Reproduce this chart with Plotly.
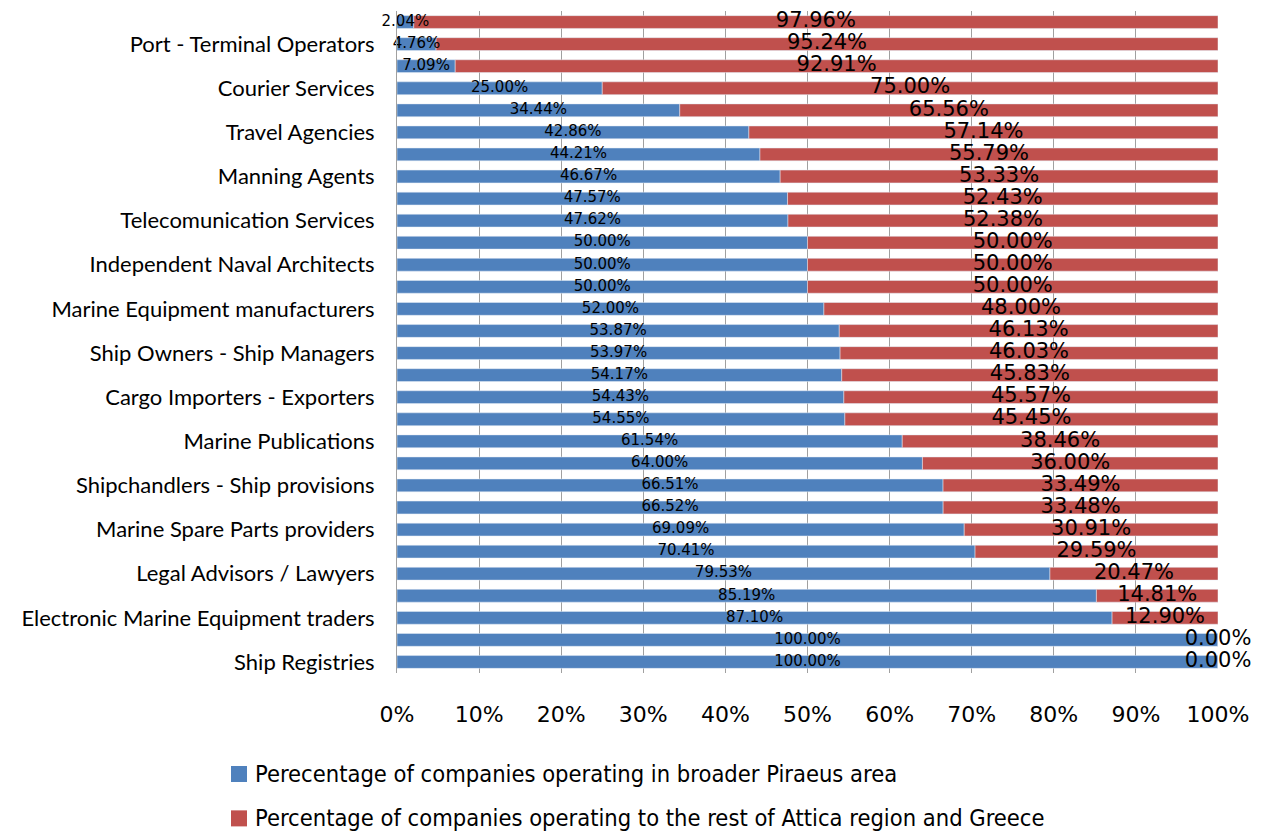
import plotly.graph_objects as go

labels = ["", "Port - Terminal Operators", "", "Courier Services", "", "Travel Agencies", "",
          "Manning Agents", "", "Telecomunication Services", "", "Independent Naval Architects", "",
          "Marine Equipment manufacturers", "", "Ship Owners - Ship Managers", "",
          "Cargo Importers - Exporters", "", "Marine Publications", "", "Shipchandlers - Ship provisions", "",
          "Marine Spare Parts providers", "", "Legal Advisors / Lawyers", "",
          "Electronic Marine Equipment traders", "", "Ship Registries"]
piraeus = [2.04, 4.76, 7.09, 25.00, 34.44, 42.86, 44.21, 46.67, 47.57, 47.62, 50.00, 50.00, 50.00,
           52.00, 53.87, 53.97, 54.17, 54.43, 54.55, 61.54, 64.00, 66.51, 66.52, 69.09, 70.41,
           79.53, 85.19, 87.10, 100.00, 100.00]
rest = [97.96, 95.24, 92.91, 75.00, 65.56, 57.14, 55.79, 53.33, 52.43, 52.38, 50.00, 50.00, 50.00,
        48.00, 46.13, 46.03, 45.83, 45.57, 45.45, 38.46, 36.00, 33.49, 33.48, 30.91, 29.59,
        20.47, 14.81, 12.90, 0.00, 0.00]
x_ticks = [0, 10, 20, 30, 40, 50, 60, 70, 80, 90, 100]
name_blue = "Perecentage of companies operating in broader Piraeus area"
name_red = "Percentage of companies operating to the rest of Attica region and Greece"

BLUE = "#4F81BD"
RED = "#C0504D"
NARROW = "Liberation Sans Narrow, DejaVu Sans Condensed, sans-serif"
WIDE = "DejaVu Sans, sans-serif"

ypos = list(range(len(labels)))

fig = go.Figure()
fig.add_trace(go.Bar(y=ypos, x=piraeus, orientation="h", marker_color=BLUE, name=name_blue,
                     width=0.58))
fig.add_trace(go.Bar(y=ypos, x=rest, orientation="h", marker_color=RED, name=name_red,
                     base=piraeus, width=0.58))

fig.add_trace(go.Scatter(y=ypos, x=[p / 2 for p in piraeus], mode="text",
                         text=[f"{p:.2f}%" for p in piraeus],
                         textfont=dict(family=WIDE, size=15, color="black"),
                         showlegend=False, hoverinfo="skip", cliponaxis=False))
fig.add_trace(go.Scatter(y=ypos, x=[p + r / 2 for p, r in zip(piraeus, rest)], mode="text",
                         text=[f"{r:.2f}%" for r in rest],
                         textfont=dict(family=WIDE, size=21, color="black"),
                         showlegend=False, hoverinfo="skip", cliponaxis=False))

tv = [i for i, l in enumerate(labels) if l]
tt = [l for l in labels if l]

# legend drawn as swatches + text (placed below the plot, outside automargin)
legend_items = [(name_blue, BLUE, -0.1405), (name_red, RED, -0.2075)]
sw_h = 0.0242
for name, col, ytop in legend_items:
    fig.add_shape(type="rect", xref="paper", yref="paper", x0=-0.2022, x1=-0.1827,
                  y0=ytop - sw_h, y1=ytop, fillcolor=col, line_width=0)
    fig.add_annotation(xref="paper", yref="paper", x=-0.1754, y=ytop - sw_h / 2,
                       xanchor="left", yanchor="middle", showarrow=False, text=name,
                       font=dict(family=NARROW, size=23.5, color="black"))

fig.update_layout(
    width=1255, height=827,
    paper_bgcolor="white", plot_bgcolor="white",
    barmode="overlay",
    margin=dict(l=389, r=45, t=3, b=162),
    showlegend=False,
    xaxis=dict(range=[0, 100], tickvals=x_ticks, ticktext=[f"{v}%" for v in x_ticks],
               showgrid=True, gridcolor="#A0A0A0", gridwidth=1, zeroline=False,
               showline=False, ticks="", ticklabelstandoff=26,
               tickfont=dict(family=WIDE, size=22, color="black")),
    yaxis=dict(range=[29.5, -0.5], tickvals=tv, ticktext=tt, showgrid=False, zeroline=False,
               showline=True, linecolor="#A0A0A0", linewidth=1, ticks="",
               ticklabelstandoff=17,
               tickfont=dict(family="Lato, sans-serif", size=22, color="black")),
)

fig.write_html("out.html")
